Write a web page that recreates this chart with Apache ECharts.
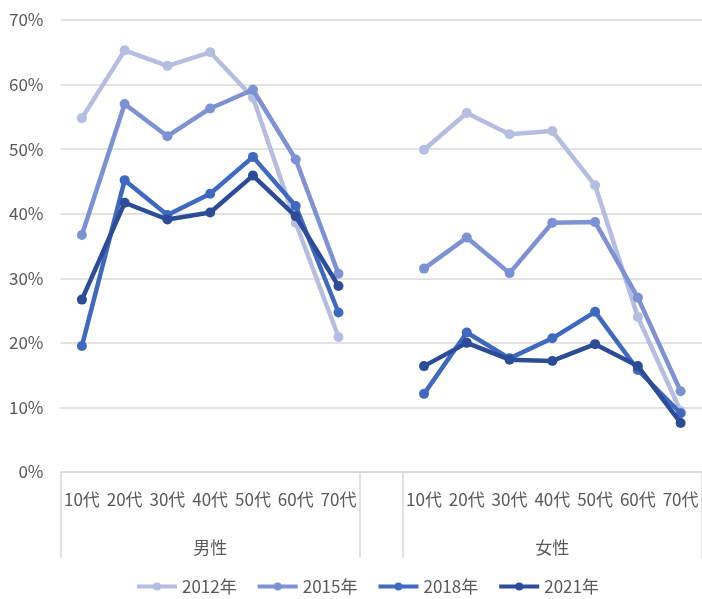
<!DOCTYPE html>
<html>
<head>
<meta charset="utf-8">
<script src="https://cdn.jsdelivr.net/npm/echarts@6/dist/echarts.min.js"></script>
<style>
html,body{margin:0;padding:0;background:#fff;}
#chart{width:702px;height:599px;}
</style>
</head>
<body>
<div id="chart"></div>
<script>
const ageLabels = ['10代','20代','30代','40代','50代','60代','70代'];
const groupLabels = ['男性','女性'];
const seriesNames = ['2012年','2015年','2018年','2021年'];
const yTicks = [0,10,20,30,40,50,60,70];

const male2012 = [54.8,65.3,62.9,65.0,58.0,38.6,20.9];
const male2015 = [36.7,57.0,52.0,56.3,59.2,48.4,30.7];
const male2018 = [19.5,45.2,39.8,43.1,48.8,41.2,24.7];
const male2021 = [26.7,41.7,39.1,40.2,45.9,39.6,28.8];

const female2012 = [49.9,55.6,52.3,52.8,44.4,24.0,9.4];
const female2015 = [31.5,36.3,30.8,38.6,38.7,27.0,12.5];
const female2018 = [12.1,21.6,17.6,20.7,24.8,15.8,9.1];
const female2021 = [16.4,20.0,17.4,17.2,19.8,16.4,7.6];

const colors = ['#b5bde0','#7d91d5','#3f69c1','#2c4c98'];

// category axis: male ages, a blank gap slot, female ages
const cats = ageLabels.concat([''], ageLabels);
const groupCats = cats.map((c, i) => {
  if (i === Math.floor(ageLabels.length / 2)) return groupLabels[0];
  if (i === ageLabels.length + 1 + Math.floor(ageLabels.length / 2)) return groupLabels[1];
  return '';
});
const join = (m, f) => m.concat([null], f);
const values = [
  join(male2012, female2012),
  join(male2015, female2015),
  join(male2018, female2018),
  join(male2021, female2021)
];
const boundaryIdx = [0, ageLabels.length, ageLabels.length + 1, cats.length];

const font = '"Noto Sans CJK JP", "Noto Sans", sans-serif';
const txt = '#595959';

const chart = echarts.init(document.getElementById('chart'), null, {renderer: 'canvas'});
chart.setOption({
  animation: false,
  color: colors,
  textStyle: {fontFamily: font},
  grid: {left: 60.5, right: -3, top: 20, bottom: 127, containLabel: false},
  legend: {
    data: seriesNames,
    left: 130,
    top: 573,
    itemWidth: 40,
    itemHeight: 10,
    itemGap: 19,
    lineStyle: {width: 4},
    textStyle: {fontSize: 17, color: txt, fontFamily: font}
  },
  xAxis: [
    {
      type: 'category',
      data: cats,
      boundaryGap: true,
      axisLine: {show: true, lineStyle: {color: '#d9d9d9', width: 1.5}},
      axisTick: {
        show: true,
        length: 86,
        lineStyle: {color: '#d9d9d9', width: 1.5},
        interval: (idx) => boundaryIdx.indexOf(idx) >= 0
      },
      axisLabel: {
        interval: 0,
        hideOverlap: false,
        margin: 19,
        fontSize: 17,
        color: txt,
        fontFamily: font
      },
      splitLine: {show: false}
    },
    {
      type: 'category',
      data: groupCats,
      position: 'bottom',
      boundaryGap: true,
      axisLine: {show: false},
      axisTick: {show: false},
      axisLabel: {
        interval: 0,
        hideOverlap: false,
        margin: 67,
        fontSize: 17,
        color: txt,
        fontFamily: font
      }
    }
  ],
  yAxis: {
    type: 'value',
    min: yTicks[0],
    max: yTicks[yTicks.length - 1],
    interval: 10,
    axisLine: {show: false},
    axisTick: {show: false},
    axisLabel: {formatter: '{value}%', fontSize: 17, color: txt, margin: 17, fontFamily: font},
    splitLine: {lineStyle: {color: '#d9d9d9', width: 1.5}}
  },
  series: seriesNames.map((name, i) => ({
    name: name,
    type: 'line',
    xAxisIndex: 0,
    data: values[i],
    connectNulls: false,
    symbol: 'circle',
    symbolSize: 10,
    lineStyle: {width: 4.5, color: colors[i]},
    itemStyle: {color: colors[i]},
    z: 2 + i
  }))
});
</script>
</body>
</html>
